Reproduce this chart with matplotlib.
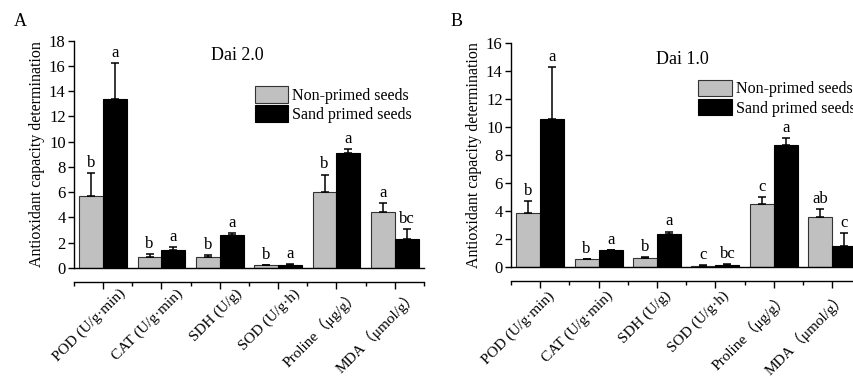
import matplotlib
matplotlib.use("Agg")
import matplotlib.pyplot as plt
import numpy as np
from matplotlib.patches import Patch
from matplotlib.transforms import ScaledTranslation

plt.rcParams['font.family'] = ['Liberation Serif', 'Noto Sans CJK SC']
plt.rcParams['mathtext.fontset'] = 'stix'

categories = ["POD (U/g·min)", "CAT (U/g·min)", "SDH (U/g)", "SOD (U/g·h)",
              "Proline（μg/g）", "MDA（μmol/g）"]
series_names = ["Non-primed seeds", "Sand primed seeds"]

# Panel A (Dai 2.0)
a_non = [5.7, 0.85, 0.85, 0.2, 6.0, 4.4]
a_non_err = [1.85, 0.25, 0.17, 0.06, 1.4, 0.75]
a_sand = [13.4, 1.45, 2.6, 0.25, 9.1, 2.3]
a_sand_err = [2.85, 0.2, 0.2, 0.06, 0.35, 0.8]
a_non_letters = ["b", "b", "b", "b", "b", "a"]
a_sand_letters = ["a", "a", "a", "a", "a", "bc"]

# Panel B (Dai 1.0)
b_non = [3.89, 0.57, 0.66, 0.12, 4.49, 3.56]
b_non_err = [0.85, 0.04, 0.09, 0.03, 0.54, 0.6]
b_sand = [10.58, 1.23, 2.37, 0.15, 8.73, 1.52]
b_sand_err = [3.66, 0.03, 0.18, 0.05, 0.5, 0.9]
b_non_letters = ["b", "b", "b", "c", "c", "ab"]
b_sand_letters = ["a", "a", "a", "bc", "a", "c"]

W, H = 854, 378
fig = plt.figure(figsize=(W / 100, H / 100), dpi=100)

def px_axes(left, right, top, bottom):
    return fig.add_axes([left / W, 1 - bottom / H, (right - left) / W, (bottom - top) / H])

def panel(ax, non, non_err, sand, sand_err, nl, sl, ymax, title, title_pos, leg_anchor, lab_dx, lab_dy):
    x = np.arange(1, len(categories) + 1)
    w = 0.41
    ekw = dict(elinewidth=1.1, capsize=2.8, capthick=1.1, ecolor='black')
    ax.bar(x - w / 2, non, w, color='#c0c0c0', edgecolor='#333333', linewidth=0.8,
           yerr=[np.zeros(len(non)), non_err], error_kw=ekw, zorder=2)
    ax.bar(x + w / 2, sand, w, color='black', edgecolor='black', linewidth=0.8,
           yerr=[np.zeros(len(sand)), sand_err], error_kw=ekw, zorder=2)
    for xi, v, e, t in zip(x - w / 2, non, non_err, nl):
        ax.annotate(t, (xi, v + e), xytext=(0, 1.5), textcoords='offset points',
                    ha='center', va='bottom', fontsize=12)
    for xi, v, e, t in zip(x + w / 2, sand, sand_err, sl):
        ax.annotate(t, (xi, v + e), xytext=(0, 1.5), textcoords='offset points',
                    ha='center', va='bottom', fontsize=12)
    ax.set_xlim(0.5, 6.5)
    ax.set_ylim(0, ymax)
    ax.set_yticks(np.arange(0, ymax + 0.1, 2))
    ax.spines['top'].set_visible(False)
    ax.spines['right'].set_visible(False)
    ax.spines['bottom'].set_position(('outward', 10))
    ax.spines['left'].set_linewidth(1.0)
    ax.spines['bottom'].set_linewidth(1.0)
    ax.axhline(0, color='black', linewidth=1.0, clip_on=False, zorder=3)
    ax.set_xticks(x)
    ax.set_xticks(np.arange(0.5, 6.6, 1.0), minor=True)
    ax.tick_params(axis='x', which='major', length=5, width=1.0, direction='out')
    ax.tick_params(axis='x', which='minor', length=3, width=1.0, direction='out')
    ax.tick_params(axis='y', length=4, width=1.0, labelsize=12, pad=2)
    ax.set_xticklabels(categories, rotation=45, ha='right', va='top',
                       rotation_mode='anchor', fontsize=11)
    for lab in ax.get_xticklabels():
        lab.set_transform(lab.get_transform() + ScaledTranslation(lab_dx, lab_dy, fig.dpi_scale_trans))
    ax.set_ylabel("Antioxidant capacity determination", fontsize=11.5, labelpad=3)
    ax.text(title_pos[0], title_pos[1], title, transform=ax.transAxes,
            ha='center', va='center', fontsize=13)
    handles = [Patch(facecolor='#c0c0c0', edgecolor='#333333', linewidth=0.8),
               Patch(facecolor='black', edgecolor='black', linewidth=0.8)]
    ax.legend(handles, series_names, loc='upper left', bbox_to_anchor=leg_anchor,
              frameon=False, fontsize=11.5, handlelength=2.1, handleheight=1.2,
              handletextpad=0.25, labelspacing=0.1, borderaxespad=0, borderpad=0)
    ax.set_facecolor('none')

axA = px_axes(74, 424, 40.7, 268)
panel(axA, a_non, a_non_err, a_sand, a_sand_err, a_non_letters, a_sand_letters,
      18, "Dai 2.0", (0.467, 0.933), (0.517, 0.80), 0.15, 0.07)
axB = px_axes(511, 861.4, 42.7, 267.3)
panel(axB, b_non, b_non_err, b_sand, b_sand_err, b_non_letters, b_sand_letters,
      16, "Dai 1.0", (0.488, 0.923), (0.535, 0.835), 0.07, 0.04)

fig.text(20 / W, 1 - 22 / H, "A", fontsize=13, ha='center', va='center')
fig.text(457 / W, 1 - 22 / H, "B", fontsize=13, ha='center', va='center')

fig.savefig("out.png", dpi=100)
